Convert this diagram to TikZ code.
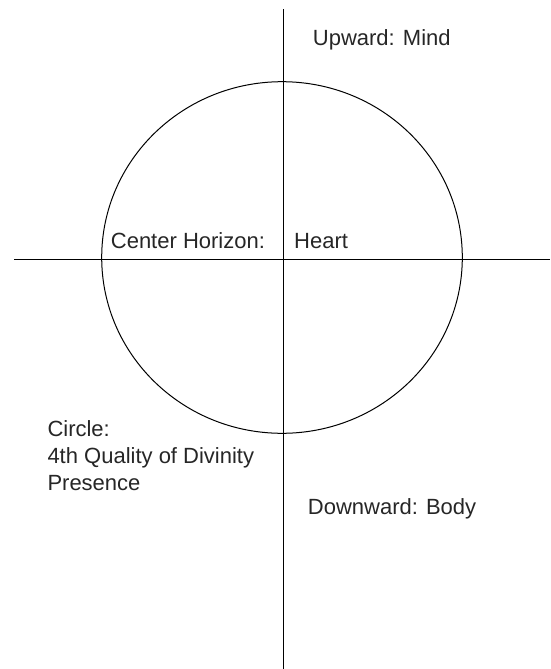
\documentclass[tikz,border=0pt]{standalone}
\usepackage{fontspec}
\setmainfont{Liberation Sans}
\begin{document}
\begin{tikzpicture}[x=1pt,y=-1pt,
  axis/.style={line width=1.1pt, draw=black},
  ring/.style={line width=1pt, draw=black},
  lbl/.style={anchor=base west, inner sep=0pt, text=black!85, font=\fontsize{22}{27}\selectfont, align=left}]
\useasboundingbox (0,0) rectangle (550,669);
\coordinate (vtop) at (283.3,9.3);
\coordinate (vbot) at (283.3,669);
\coordinate (hleft) at (14,259.3);
\coordinate (hright) at (550,259.3);
\draw[axis] (vtop) -- (vbot);
\draw[axis] (hleft) -- (hright);
\draw[ring] (282,257.5) ellipse [x radius=180.3pt, y radius=175.8pt];
\node[lbl] (up) at (312.7,45.7) {Upward: Mind};
\node[lbl] (center) at (110.7,248.3) {Center Horizon:};
\node[lbl] (heart) at (294,248.3) {Heart};
\node[lbl] (circ) at (47.3,436) {Circle:};
\node[lbl] (qual) at (47.3,463.3) {4th Quality of Divinity};
\node[lbl] (pres) at (47.3,490) {Presence};
\node[lbl] (down) at (307.7,514) {Downward: Body};
\end{tikzpicture}
\end{document}
